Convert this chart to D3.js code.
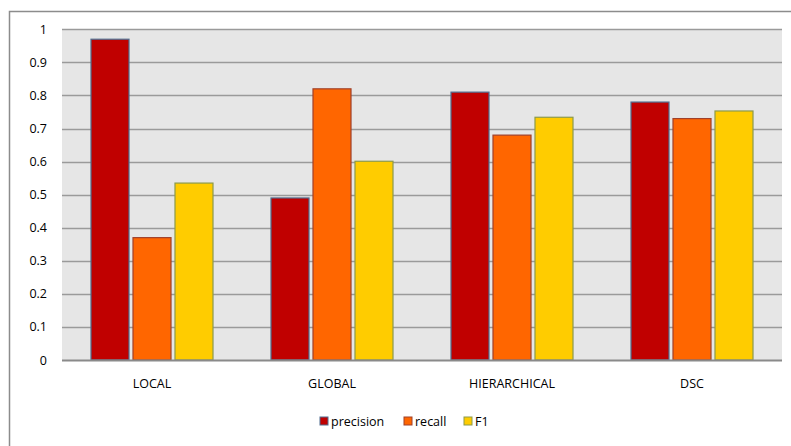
<!DOCTYPE html>
<html>
<head>
<meta charset="utf-8">
<script src="https://cdn.jsdelivr.net/npm/d3@7"></script>
<style>
  body { margin: 0; background: #fff; }
  svg { display: block; font-family: "Open Sans", "Liberation Sans", sans-serif; }
</style>
</head>
<body>
<svg id="chart" width="791" height="446"></svg>
<script>
const categories = ["LOCAL", "GLOBAL", "HIERARCHICAL", "DSC"];
const seriesNames = ["precision", "recall", "F1"];
const precision = [0.97, 0.49, 0.81, 0.78];
const recall = [0.37, 0.82, 0.68, 0.73];
const f1 = [0.535, 0.601, 0.734, 0.753];
const yTicks = [0, 0.1, 0.2, 0.3, 0.4, 0.5, 0.6, 0.7, 0.8, 0.9, 1];

const fills = ["#C00000", "#FF6600", "#FFCC00"];
const strokes = ["#4F6D8F", "#A0402A", "#8C9A4A"];
const values = [precision, recall, f1];
const FONT = "'Open Sans', 'Liberation Sans', sans-serif";
const FONT_SIZE = 12.5;

const svg = d3.select("#chart");

// outer chart frame (runs past the right and bottom edges)
svg.append("rect")
  .attr("x", 9.5).attr("y", 11.5)
  .attr("width", 820).attr("height", 460)
  .attr("fill", "#fff")
  .attr("stroke", "#8c8c8c").attr("stroke-width", 1.5);

const plot = { left: 62, right: 782, top: 29.3, bottom: 360 };

const x = d3.scaleBand().domain(categories).range([plot.left, plot.right]);
const y = d3.scaleLinear().domain([0, 1]).range([plot.bottom, plot.top]);
const inner = d3.scaleBand().domain(seriesNames).range([0, 122]).paddingInner(0.095);

// plot background
svg.append("rect")
  .attr("x", plot.left).attr("y", plot.top)
  .attr("width", plot.right - plot.left).attr("height", plot.bottom - plot.top)
  .attr("fill", "#E6E6E6");

// gridlines
svg.append("g").selectAll("line")
  .data(yTicks.filter(d => d > 0))
  .join("line")
  .attr("x1", plot.left).attr("x2", plot.right)
  .attr("y1", d => Math.round(y(d)) + 0.5).attr("y2", d => Math.round(y(d)) + 0.5)
  .attr("stroke", "#9a9a9a").attr("stroke-width", 1.6);

// y axis labels
const yAxis = d3.axisLeft(y).tickValues(yTicks).tickSize(0).tickPadding(0)
  .tickFormat(d => String(+d.toFixed(1)));
const gy = svg.append("g").attr("transform", `translate(${47},0)`).call(yAxis);
gy.select(".domain").remove();
gy.selectAll("text").attr("font-size", FONT_SIZE).attr("fill", "#000").attr("font-family", FONT);

// bars
const groups = svg.append("g").selectAll("g")
  .data(categories)
  .join("g")
  .attr("transform", d => `translate(${x(d) + x.bandwidth() / 2 - 61},0)`);

groups.selectAll("rect")
  .data((c, i) => seriesNames.map((s, j) => ({ s, j, v: values[j][i] })))
  .join("rect")
  .attr("x", d => inner(d.s))
  .attr("y", d => y(d.v))
  .attr("width", inner.bandwidth())
  .attr("height", d => y(0) - y(d.v))
  .attr("fill", d => fills[d.j])
  .attr("stroke", d => strokes[d.j])
  .attr("stroke-width", 1.2);

// x axis baseline and labels
svg.append("line")
  .attr("x1", plot.left).attr("x2", plot.right)
  .attr("y1", plot.bottom + 0.5).attr("y2", plot.bottom + 0.5)
  .attr("stroke", "#8a8a8a").attr("stroke-width", 2);

const xAxis = d3.axisBottom(x).tickSize(0).tickPadding(0);
const gx = svg.append("g").attr("transform", `translate(0,${379})`).call(xAxis);
gx.select(".domain").remove();
gx.selectAll("text").attr("font-size", FONT_SIZE).attr("fill", "#000").attr("font-family", FONT);

// legend
const legendX = [320, 404, 464];
const legend = svg.append("g").selectAll("g")
  .data(seriesNames)
  .join("g")
  .attr("transform", (d, i) => `translate(${legendX[i]},${417})`);
legend.append("rect")
  .attr("width", 8).attr("height", 8)
  .attr("fill", (d, i) => fills[i])
  .attr("stroke", (d, i) => strokes[i]).attr("stroke-width", 1);
legend.append("text")
  .attr("x", 11).attr("y", 8.5)
  .attr("font-size", FONT_SIZE)
  .attr("font-family", FONT)
  .attr("fill", "#000")
  .text(d => d);
</script>
</body>
</html>
